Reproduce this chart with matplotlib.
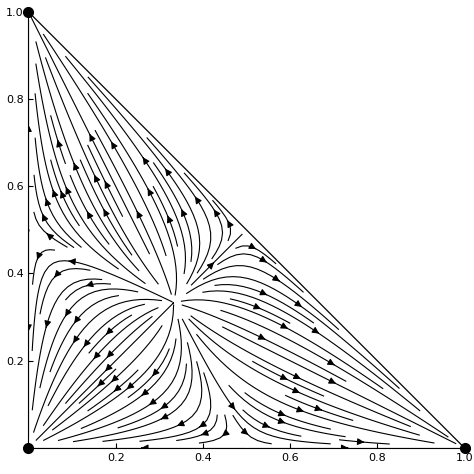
import numpy as np
import matplotlib.pyplot as plt

# coordination game payoffs (diagonal), replicator dynamics on the simplex
payoff = [1.0, 1.0, 1.0]
vertices_x = [0, 1, 0]
vertices_y = [0, 0, 1]
xticks = [0.2, 0.4, 0.6, 0.8, 1.0]
yticks = [0.2, 0.4, 0.6, 0.8, 1.0]

n = 300
gx, gy = np.meshgrid(np.linspace(0, 1, n), np.linspace(0, 1, n))
gz = 1 - gx - gy
f1, f2, f3 = payoff[0]*gx, payoff[1]*gy, payoff[2]*gz
fbar = gx*f1 + gy*f2 + gz*f3
u = gx*(f1 - fbar)
v = gy*(f2 - fbar)
mask = gz < 0
u = np.ma.array(u, mask=mask)
v = np.ma.array(v, mask=mask)

fig, ax = plt.subplots(figsize=(4.74, 4.74), dpi=100)
ax.streamplot(gx, gy, u, v, density=2.0, color='black', linewidth=0.8,
              arrowsize=1.0, arrowstyle='-|>', maxlength=1.2)
ax.plot([1, 0], [0, 1], color='black', lw=0.9)
ax.plot(vertices_x, vertices_y, 'o', color='black', ms=7, clip_on=False, zorder=5)
ax.set_xlim(0, 1)
ax.set_ylim(0, 1)
ax.set_xticks(xticks)
ax.set_yticks(yticks)
ax.tick_params(labelsize=8, direction='in')
for s in ['top', 'right']:
    ax.spines[s].set_visible(False)
ax.set_aspect('equal')
plt.subplots_adjust(left=0.06, right=0.98, bottom=0.05, top=0.98)
plt.savefig('out.png', dpi=100)
